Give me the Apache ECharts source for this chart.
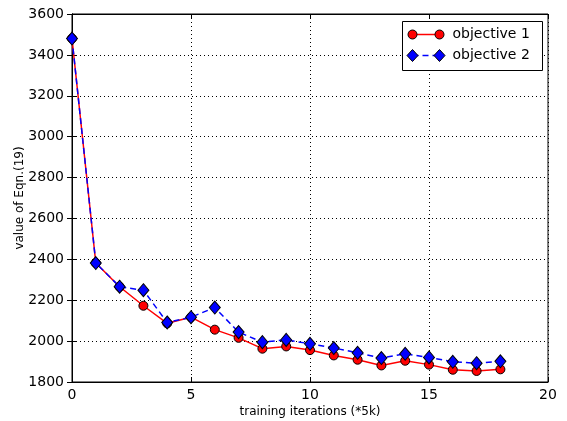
<!DOCTYPE html>
<html>
<head>
<meta charset="utf-8">
<script src="https://cdn.jsdelivr.net/npm/echarts@6/dist/echarts.min.js"></script>
<style>
  html, body { margin: 0; padding: 0; background: #fff; }
  #chart { width: 567px; height: 421px; }
</style>
</head>
<body>
<div id="chart"></div>
<script>
// iterations (*5k) and objective values
const iters = [0, 1, 2, 3, 4, 5, 6, 7, 8, 9, 10, 11, 12, 13, 14, 15, 16, 17, 18];
const obj1 = [3480, 2382, 2266, 2173, 2087, 2117, 2056, 2016, 1963, 1974, 1956, 1930, 1909, 1881, 1904, 1885, 1860, 1854, 1862];
const obj2 = [3480, 2382, 2266, 2249, 2091, 2117, 2164, 2044, 1995, 2006, 1987, 1966, 1943, 1917, 1938, 1920, 1899, 1892, 1901];
const xTicks = [0, 5, 10, 15, 20];
const yTicks = [1800, 2000, 2200, 2400, 2600, 2800, 3000, 3200, 3400, 3600];

const FONT = "DejaVu Sans";
const pairs = ys => iters.map((x, i) => [x, ys[i]]);

const chart = echarts.init(document.getElementById("chart"), null, { renderer: "canvas" });

const tick = { show: true, inside: true, length: 5, lineStyle: { color: "#000", width: 1 } };
const grid = { show: true, lineStyle: { color: "#000", type: [1, 3], width: 1 } };

chart.setOption({
  animation: false,
  backgroundColor: "#fff",
  grid: {
    left: 72, right: 19, top: 14, bottom: 39, show: true,
    borderColor: "#000", borderWidth: 1, containLabel: false, outerBoundsMode: "none"
  },
  xAxis: [
    {
      type: "value", min: xTicks[0], max: xTicks[xTicks.length - 1], interval: 5,
      name: "training iterations (*5k)", nameLocation: "middle", nameGap: 24, nameMoveOverlap: false,
      nameTextStyle: { fontFamily: FONT, fontSize: 12, color: "#000" },
      axisLine: { show: true, lineStyle: { color: "#000" } },
      axisTick: tick, splitLine: grid,
      axisLabel: { fontFamily: FONT, fontSize: 14, color: "#000", margin: 6, formatter: v => String(v) }
    },
    {
      type: "value", position: "top", min: 0, max: 20, interval: 5,
      axisLine: { show: true, lineStyle: { color: "#000" } },
      axisTick: tick, splitLine: { show: false }, axisLabel: { show: false }
    }
  ],
  yAxis: [
    {
      type: "value", min: yTicks[0], max: yTicks[yTicks.length - 1], interval: 200,
      name: "value of Eqn.(19)", nameLocation: "middle", nameGap: 46, nameMoveOverlap: false,
      nameTextStyle: { fontFamily: FONT, fontSize: 12, color: "#000" },
      axisLine: { show: true, lineStyle: { color: "#000" } },
      axisTick: tick, splitLine: grid,
      axisLabel: { fontFamily: FONT, fontSize: 14, color: "#000", margin: 8, formatter: v => String(v) }
    },
    {
      type: "value", position: "right", min: 1800, max: 3600, interval: 200,
      axisLine: { show: true, lineStyle: { color: "#000" } },
      axisTick: tick, splitLine: { show: false }, axisLabel: { show: false }
    }
  ],
  series: [
    {
      name: "objective 1", type: "line", data: pairs(obj1),
      symbol: "circle", symbolSize: 9,
      lineStyle: { color: "#ff0000", width: 1.5 },
      itemStyle: { color: "#ff0000", borderColor: "#000", borderWidth: 1 },
      z: 3
    },
    {
      name: "objective 2", type: "line", data: pairs(obj2),
      symbol: "diamond", symbolSize: [11, 13],
      lineStyle: { color: "#0000ff", width: 1.5, type: [6, 4] },
      itemStyle: { color: "#0000ff", borderColor: "#000", borderWidth: 1 },
      z: 4
    }
  ],
  graphic: [
    {
      type: "group", left: 402, top: 21, z: 100,
      children: [
        { type: "rect", z: 100, shape: { x: 0, y: 0, width: 140, height: 49 },
          style: { fill: "#fff", stroke: "#000", lineWidth: 1 } },
        { type: "line", z: 101, shape: { x1: 10, y1: 13, x2: 37, y2: 13 }, style: { stroke: "#ff0000", lineWidth: 1.5 } },
        { type: "circle", z: 102, shape: { cx: 10, cy: 13, r: 4.5 }, style: { fill: "#ff0000", stroke: "#000", lineWidth: 1 } },
        { type: "circle", z: 102, shape: { cx: 37, cy: 13, r: 4.5 }, style: { fill: "#ff0000", stroke: "#000", lineWidth: 1 } },
        { type: "text", z: 102, x: 50, y: 13, style: { text: "objective 1", font: "14px 'DejaVu Sans'", fill: "#000", verticalAlign: "middle" } },
        { type: "line", z: 101, shape: { x1: 10, y1: 34, x2: 37, y2: 34 }, style: { stroke: "#0000ff", lineWidth: 1.5, lineDash: [6, 4] } },
        { type: "polygon", z: 102, shape: { points: [[10, 28], [15.5, 34], [10, 40], [4.5, 34]] }, style: { fill: "#0000ff", stroke: "#000", lineWidth: 1 } },
        { type: "polygon", z: 102, shape: { points: [[37, 28], [42.5, 34], [37, 40], [31.5, 34]] }, style: { fill: "#0000ff", stroke: "#000", lineWidth: 1 } },
        { type: "text", z: 102, x: 50, y: 34, style: { text: "objective 2", font: "14px 'DejaVu Sans'", fill: "#000", verticalAlign: "middle" } }
      ]
    }
  ]
});
</script>
</body>
</html>
